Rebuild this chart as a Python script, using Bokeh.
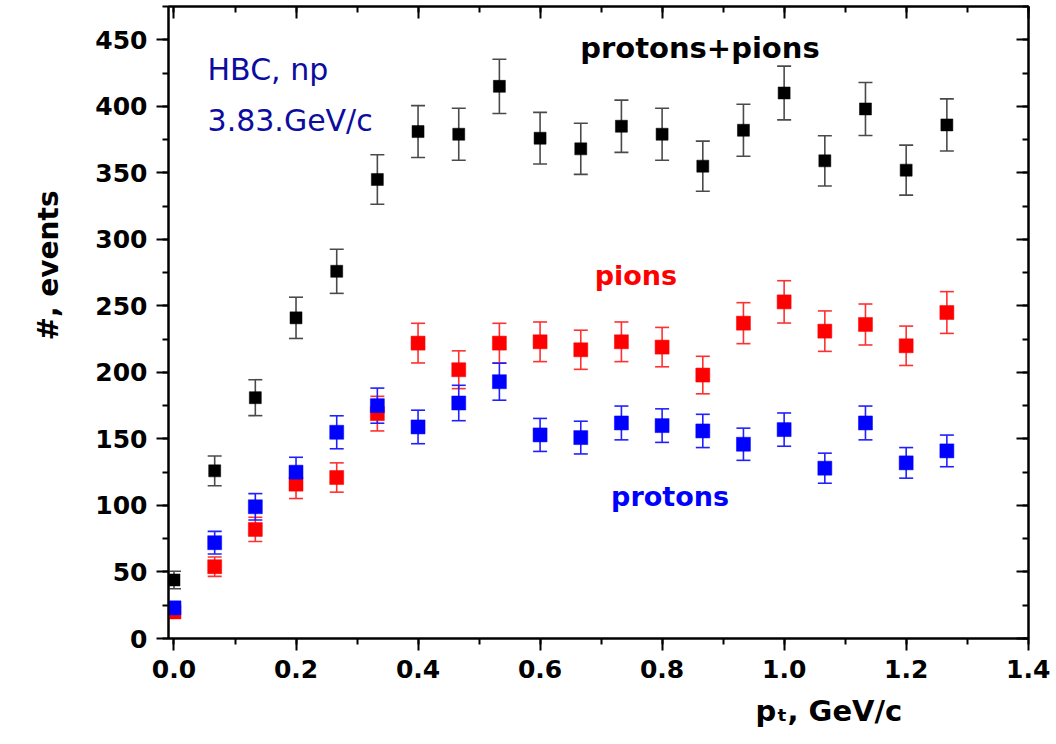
from bokeh.plotting import figure
from bokeh.models import (ColumnDataSource, Whisker, TeeHead, Label, LinearAxis, Title,
                          SingleIntervalTicker, NumeralTickFormatter, Range1d)
from bokeh.embed import file_html
from bokeh.resources import INLINE

# ---- data ----
pt = [0.0, 0.0667, 0.1333, 0.2, 0.2667, 0.3333, 0.4, 0.4667, 0.5333, 0.6,
      0.6667, 0.7333, 0.8, 0.8667, 0.9333, 1.0, 1.0667, 1.1333, 1.2, 1.2667]

both = [44, 126, 181, 241, 276, 345, 381, 379, 415, 376,
        368, 385, 379, 355, 382, 410, 359, 398, 352, 386]
both_err = [6.6, 11.2, 13.5, 15.5, 16.6, 18.6, 19.5, 19.5, 20.4, 19.4,
            19.2, 19.6, 19.5, 18.8, 19.5, 20.2, 18.9, 19.9, 18.8, 19.6]

pions = [20, 54, 82, 116, 121, 169, 222, 202, 222, 223,
         217, 223, 219, 198, 237, 253, 231, 236, 220, 245]
pions_err = [4.5, 7.3, 9.1, 10.8, 11.0, 13.0, 14.9, 14.2, 14.9, 14.9,
             14.7, 14.9, 14.8, 14.1, 15.4, 15.9, 15.2, 15.4, 14.8, 15.7]

protons = [23, 72, 99, 125, 155, 175, 159, 177, 193, 153,
           151, 162, 160, 156, 146, 157, 128, 162, 132, 141]
protons_err = [4.8, 8.5, 9.9, 11.2, 12.4, 13.2, 12.6, 13.3, 13.9, 12.4,
               12.3, 12.7, 12.6, 12.5, 12.1, 12.5, 11.3, 12.7, 11.5, 11.9]

FONT = "DejaVu Sans"

p = figure(width=1056, height=744, output_backend="svg", toolbar_location=None,
           x_range=Range1d(-0.009, 1.4005), y_range=Range1d(0, 475),
           x_axis_location=None, y_axis_location=None,
           min_border_left=168, min_border_right=28, min_border_top=6,
           min_border_bottom=106)
p.grid.visible = False
p.outline_line_color = "black"
p.outline_line_width = 2
p.background_fill_color = "white"
p.border_fill_color = "white"

xt = SingleIntervalTicker(interval=0.2, num_minor_ticks=2)
yt = SingleIntervalTicker(interval=50, num_minor_ticks=2)


def style(ax, outward, labels):
    ax.axis_line_width = 2
    ax.major_tick_line_width = 2
    ax.minor_tick_line_width = 2
    if outward:
        ax.major_tick_out, ax.major_tick_in = 12, 0
        ax.minor_tick_out, ax.minor_tick_in = 6, 0
    else:
        ax.major_tick_out, ax.major_tick_in = 0, 12
        ax.minor_tick_out, ax.minor_tick_in = 0, 6
    if labels:
        ax.major_label_text_font = FONT
        ax.major_label_text_font_style = "bold"
        ax.major_label_text_font_size = "25px"
        ax.major_label_text_color = "black"
        ax.major_label_standoff = 9
    else:
        ax.major_label_text_font_size = "0px"
        ax.major_label_standoff = 0
        ax.major_label_text_alpha = 0


bx = LinearAxis(ticker=xt, formatter=NumeralTickFormatter(format="0.0"))
style(bx, True, True)
p.add_layout(bx, "below")
ly = LinearAxis(ticker=yt, formatter=NumeralTickFormatter(format="0"))
style(ly, True, True)
p.add_layout(ly, "left")
tx = LinearAxis(ticker=xt)
style(tx, False, False)
p.add_layout(tx, "above")
ry = LinearAxis(ticker=yt)
style(ry, False, False)
p.add_layout(ry, "right")

# axis titles as side-panel titles (positioned like the reference)
p.add_layout(Title(text="p\u209c, GeV/c", align="left", offset=587,
                   text_font=FONT, text_font_size="29px", text_font_style="bold",
                   text_color="black", standoff=22), "below")
p.add_layout(Title(text="#, events", align="left", offset=298,
                   text_font=FONT, text_font_size="28px", text_font_style="bold",
                   text_color="black", standoff=56), "left")


def series(vals, errs, color, bar_color, size):
    src = ColumnDataSource(dict(x=pt, y=vals,
                                lo=[v - e for v, e in zip(vals, errs)],
                                hi=[v + e for v, e in zip(vals, errs)]))
    w = Whisker(source=src, base="x", lower="lo", upper="hi", dimension="height",
                line_color=bar_color, line_width=1.6,
                upper_head=TeeHead(size=14, line_color=bar_color, line_width=1.6),
                lower_head=TeeHead(size=14, line_color=bar_color, line_width=1.6))
    p.add_layout(w)
    p.scatter("x", "y", source=src, marker="square", size=size,
              fill_color=color, line_color=color, line_width=0.5)


series(both, both_err, "black", "#4a4a4a", 12)
series(pions, pions_err, "#ff0000", "#ff3030", 14)
series(protons, protons_err, "#0000ff", "#2020ff", 14)


def lab(x, y, text, color, size, style="bold", align="center"):
    p.add_layout(Label(x=x, y=y, text=text, text_color=color, text_font=FONT,
                       text_font_size=size, text_font_style=style,
                       text_align=align, text_baseline="middle"))


lab(0.055, 428, "HBC, np", "#0c0ca0", "30px", style="normal", align="left")
lab(0.055, 389, "3.83.GeV/c", "#0c0ca0", "30px", style="normal", align="left")
lab(0.862, 444, "protons+pions", "black", "29px")
lab(0.757, 273, "pions", "#ff0000", "27px")
lab(0.813, 107, "protons", "#0000ff", "27px")

open("out.html", "w").write(file_html(p, INLINE))
